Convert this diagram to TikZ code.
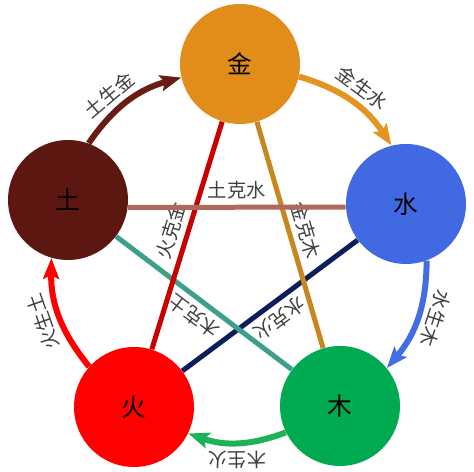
\documentclass[tikz,border=0pt]{standalone}
\usepackage{fontspec}
\setmainfont{Noto Sans CJK SC}
\usetikzlibrary{arrows.meta}
\definecolor{jincol}{RGB}{224,141,28}
\definecolor{shuicol}{RGB}{65,105,225}
\definecolor{mucol}{RGB}{0,170,80}
\definecolor{huocol}{RGB}{255,0,0}
\definecolor{tucol}{RGB}{92,23,16}
\definecolor{tjcol}{RGB}{105,28,18}
\definecolor{jscol}{RGB}{228,148,32}
\definecolor{smcol}{RGB}{65,110,225}
\definecolor{mhcol}{RGB}{30,178,88}
\definecolor{htcol}{RGB}{255,0,0}
\definecolor{tscol}{RGB}{176,104,88}
\definecolor{jmcol}{RGB}{200,134,30}
\definecolor{hjcol}{RGB}{200,0,0}
\definecolor{mtcol}{RGB}{60,160,140}
\definecolor{shcol}{RGB}{10,30,90}
\begin{document}
\begin{tikzpicture}[x=0.02cm,y=-0.02cm,
    elem/.style={circle,minimum size=2.4cm,inner sep=0pt,font=\fontsize{14}{14}\selectfont},
    lab/.style={sloped,allow upside down,above,inner sep=3pt,text=black!75,font=\fontsize{11}{11}\selectfont},
    sheng/.style={line width=0.12cm,-{Stealth[length=0.42cm,width=0.32cm,inset=0.08cm]}},
    ke/.style={line width=0.1cm}]
      \useasboundingbox (0,0) rectangle (474,472);
      \draw
        (240,64) node[elem,fill=jincol] (jin){金}
        (406,204) node[elem,fill=shuicol] (shui){水}
        (340,406) node[elem,fill=mucol] (mu){木}
        (134,407) node[elem,fill=huocol] (huo){火}
        (68,200) node[elem,fill=tucol] (tu){土};
      \begin{scope}[ke]
        \draw[shcol] (shui) to node[lab]{水克火} (huo);
        \draw[mtcol] (mu) to node[lab]{木克土} (tu);
        \draw[hjcol] (huo) to node[lab]{火克金} (jin);
        \draw[jmcol] (jin) to node[lab]{金克木} (mu);
        \draw[tscol] (tu.-7) to node[lab]{土克水} (shui.183);
      \end{scope}
      \begin{scope}[sheng]
        \draw[tjcol] (tu.70) to[bend left=20] node[lab,pos=0.4]{土生金} (jin.193);
        \draw[jscol] (jin.-12) to[bend left=20] node[lab]{金生水} (shui.104);
        \draw[smcol] (shui.-70) to[bend left=20] node[lab,pos=0.45]{水生木} (mu.39);
        \draw[mhcol] (mu.206) to[bend left=20] node[lab]{木生火} (huo.-26);
        \draw[htcol] (huo.138) to[bend left=20] node[lab]{火生土} (tu.-106);
      \end{scope}
    \end{tikzpicture}
\end{document}
